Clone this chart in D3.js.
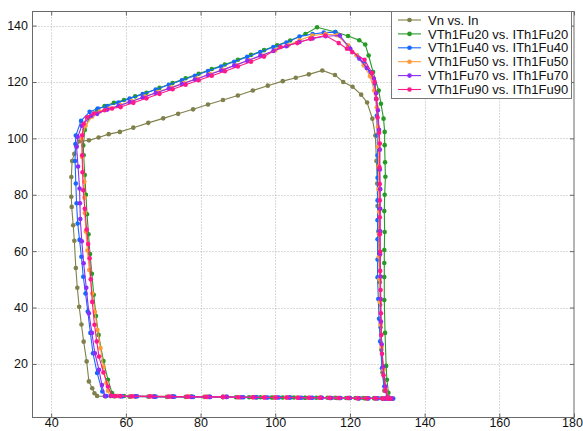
<!DOCTYPE html>
<html><head><meta charset="utf-8">
<script src="https://cdn.jsdelivr.net/npm/d3@7"></script>
<style>body{margin:0;background:#fff}svg{display:block}</style>
</head><body>
<svg id="c" width="583" height="431"></svg>
<script>
// ---- data ----
const seriesNames = ["Vn vs. In","VTh1Fu20 vs. ITh1Fu20","VTh1Fu40 vs. ITh1Fu40","VTh1Fu50 vs. ITh1Fu50","VTh1Fu70 vs. ITh1Fu70","VTh1Fu90 vs. ITh1Fu90"];
const seriesColors = ["#80804c","#259a25","#1668ff","#ff9a38","#8c2cf5","#ff1a8c"];
const xTicks = [40,60,80,100,120,140,160,180];
const yTicks = [20,40,60,80,100,120,140];

const vnX = [130.5,128.8,126.5,123.5,120.0,116.0,112.0,108.0,104.0,99.5,95.0,90.5,86.0,81.0,76.0,71.0,66.0,61.0,57.0,54.5,52.3,51.6,51.0,50.1,49.5,48.7,48.1,47.5,47.0,46.6,46.2,45.9,45.5,45.4,45.4,45.6,46.2,46.8,47.7,50.1,52.7,55.4,58.4,62.0,66.0,70.0,74.0,78.0,82.0,86.0,90.0,94.0,98.0,102.0,105.5,109.0,112.6,116.0,118.2,120.7,123.0,124.6,126.0,126.8,127.1,127.3,127.4,127.6,127.8,128.0,128.1,128.2,128.4,128.7,129.2];
const vnY = [7.8,7.8,7.9,7.9,7.9,8.0,8.0,8.0,8.1,8.1,8.1,8.2,8.2,8.3,8.3,8.3,8.4,8.4,8.5,8.5,8.6,9.6,11.4,13.8,20.9,27.9,34.0,40.3,47.0,54.0,63.7,69.2,75.7,79.3,86.3,92.0,94.5,97.2,99.0,99.3,100.3,101.5,102.3,103.8,105.5,107.1,108.7,110.3,112.0,113.6,115.2,117.0,118.7,120.3,121.5,122.7,124.1,122.5,120.0,118.3,115.5,112.7,107.0,101.0,92.0,84.0,76.0,67.0,58.0,49.0,41.0,33.0,25.0,17.0,10.5];

const fu20X = [131.0,130.0,128.5,126.5,124.0,121.5,119.0,116.5,114.0,111.0,108.0,105.0,102.0,99.0,96.0,93.0,89.5,86.0,82.0,77.5,72.5,67.5,62.5,59.5,57.7,56.3,55.2,54.0,52.7,52.0,51.4,50.9,50.4,50.0,49.6,49.3,49.0,48.7,48.6,49.0,50.2,52.3,54.3,56.8,59.5,62.5,65.5,69.0,72.5,76.0,79.5,83.0,86.5,90.0,93.5,97.0,100.5,104.0,108.1,111.2,116.1,119.5,122.5,124.1,125.0,126.2,127.7,128.3,129.0,129.3,129.3,129.4,129.5,129.3,129.2,129.3,129.2,129.2,129.2,129.2,129.4,129.7,129.9,130.3,130.6];
const fu20Y = [7.7,7.7,7.8,7.8,7.8,7.9,7.9,7.9,8.0,8.0,8.0,8.1,8.1,8.1,8.2,8.2,8.2,8.3,8.3,8.4,8.4,8.5,8.5,8.6,8.6,9.7,14.4,21.0,30.3,37.0,44.5,52.0,59.0,66.0,73.1,80.0,87.0,94.0,97.5,103.0,107.5,110.2,111.5,112.6,113.6,114.9,116.2,117.9,119.6,121.3,122.9,124.6,126.2,127.9,129.6,131.3,133.0,134.7,137.0,139.4,137.7,136.3,134.8,133.3,129.4,123.5,117.0,112.3,107.0,102.3,97.6,91.5,86.4,80.0,74.2,66.8,60.4,55.8,50.8,42.7,31.0,19.3,14.4,9.8,8.0];

const fu40X = [131.6,130.8,129.5,127.5,125.0,122.5,120.0,117.5,115.0,112.5,110.0,107.0,104.0,101.0,98.0,95.0,91.5,87.0,82.5,78.0,73.0,68.0,63.0,59.0,56.5,54.8,53.7,52.3,51.2,50.5,49.8,49.2,48.6,48.1,47.6,47.1,46.8,46.6,46.4,46.5,46.6,48.0,50.3,52.5,55.0,58.0,61.0,64.5,68.0,71.5,75.0,78.5,82.0,85.5,89.0,92.5,96.0,99.5,103.0,106.5,110.0,113.0,116.1,119.7,121.9,123.8,125.5,126.6,127.0,127.2,127.3,127.4,127.4,127.4,127.4,127.4,127.4,127.4,127.6,127.8,128.1,128.6,129.2,130.0];
const fu40Y = [7.7,7.7,7.7,7.8,7.8,7.8,7.9,7.9,7.9,8.0,8.0,8.0,8.1,8.1,8.1,8.2,8.2,8.3,8.3,8.3,8.4,8.4,8.5,8.5,8.6,8.6,10.2,16.8,23.8,31.0,38.6,45.0,50.9,58.0,64.0,69.8,77.0,84.0,92.0,98.0,101.0,106.2,109.4,110.6,111.5,112.7,114.1,115.7,117.3,119.0,120.6,122.2,123.9,125.5,127.2,128.9,130.6,132.4,134.0,136.1,137.0,137.5,137.7,132.4,129.4,126.5,123.5,119.4,114.0,108.0,101.0,94.0,86.0,78.0,71.0,64.2,57.0,50.7,43.0,36.0,28.0,18.5,12.0,8.2];

const fu50X = [131.2,130.3,129.0,127.0,124.5,122.0,119.5,117.0,114.5,112.0,109.0,106.0,103.0,100.0,97.0,94.0,90.5,86.5,82.0,77.0,72.0,67.0,62.0,58.0,55.8,55.2,54.8,54.0,53.2,52.4,51.7,51.0,50.2,49.7,49.3,49.0,48.9,48.9,48.3,48.2,49.2,51.0,53.0,55.5,58.5,61.5,65.0,68.5,72.0,75.5,79.0,82.5,86.0,89.5,93.0,96.5,100.0,103.5,106.5,109.9,113.5,116.5,119.5,121.8,123.7,125.4,126.5,127.2,127.5,127.6,127.7,127.7,127.8,127.8,127.8,127.9,128.0,128.2,128.5,129.0,129.6,130.3];
const fu50Y = [7.7,7.7,7.8,7.8,7.8,7.9,7.9,7.9,8.0,8.0,8.0,8.1,8.1,8.1,8.2,8.2,8.2,8.3,8.3,8.4,8.4,8.5,8.5,8.6,8.6,10.5,13.2,19.0,25.6,32.0,38.5,45.0,53.3,60.2,67.0,73.5,79.0,84.6,93.4,100.0,104.5,107.8,109.5,110.6,111.8,113.2,114.8,116.4,118.0,119.6,121.2,122.8,124.4,126.0,127.7,129.4,131.2,133.0,134.8,136.5,137.0,136.6,133.0,129.5,125.9,122.0,117.0,111.0,104.0,97.0,90.0,82.0,74.0,66.0,58.0,50.0,42.0,34.0,26.0,18.0,11.5,8.2];

const fu70X = [131.3,130.5,129.2,127.2,124.8,122.3,119.8,117.3,114.8,112.3,109.5,106.5,103.5,100.5,97.5,94.5,91.0,87.0,82.5,77.5,72.5,67.5,62.5,58.5,56.0,54.4,53.6,52.8,51.7,50.9,50.1,49.4,48.7,48.2,47.8,47.7,47.6,47.2,46.8,47.1,48.2,50.7,52.3,55.0,58.0,61.0,64.5,68.0,71.5,75.0,78.5,82.0,85.5,89.0,92.5,96.0,99.5,103.0,106.5,110.0,113.5,117.3,120.1,122.5,124.5,126.4,127.0,127.5,127.8,128.0,128.0,128.1,128.1,128.1,128.1,128.2,128.2,128.3,128.5,128.9,129.5,130.1];
const fu70Y = [7.7,7.7,7.7,7.8,7.8,7.8,7.9,7.9,7.9,8.0,8.0,8.0,8.1,8.1,8.1,8.2,8.2,8.3,8.3,8.3,8.4,8.4,8.5,8.5,8.6,8.6,12.5,17.9,23.8,31.0,38.0,47.0,55.7,63.5,71.4,77.0,82.2,90.0,97.0,100.5,104.5,108.0,108.7,110.2,111.5,112.9,114.5,116.1,117.7,119.3,120.9,122.5,124.1,125.8,127.5,129.3,131.0,132.7,134.2,135.4,136.2,136.5,131.8,128.3,125.0,121.2,116.0,110.0,103.0,96.0,89.0,82.0,75.0,67.0,59.0,51.0,43.0,35.0,27.0,19.0,12.0,8.2];

const fu90X = [130.8,130.0,128.7,126.8,124.5,122.0,119.5,117.0,114.5,112.0,109.0,106.0,103.0,100.0,97.0,94.0,90.0,86.0,81.5,76.5,71.5,66.5,61.5,58.5,57.3,56.3,55.2,54.0,52.8,52.2,51.6,51.0,50.6,50.3,49.9,49.5,49.0,48.6,48.4,48.3,48.3,48.7,49.6,51.4,54.3,56.3,58.6,62.0,65.5,69.0,72.5,76.0,79.5,83.0,86.5,90.0,93.5,97.0,101.4,105.9,109.4,113.4,117.0,119.2,120.6,123.9,125.9,126.6,127.1,127.4,127.8,128.0,127.9,128.0,128.0,128.0,128.0,128.1,128.1,128.2,128.3,128.4,128.6,129.0,129.5,130.0];
const fu90Y = [7.7,7.7,7.7,7.8,7.8,7.8,7.9,7.9,7.9,8.0,8.0,8.0,8.1,8.1,8.1,8.2,8.2,8.3,8.3,8.4,8.4,8.5,8.5,8.6,8.6,8.7,12.0,17.0,22.6,28.0,33.9,42.0,50.0,57.5,62.5,67.7,75.0,81.6,88.0,94.0,101.1,105.2,107.5,108.8,110.0,110.6,111.1,112.6,114.2,115.8,117.4,119.0,120.6,122.2,123.8,125.5,127.2,129.0,132.4,133.8,135.3,136.5,133.8,131.8,130.6,127.9,123.2,120.0,114.0,107.4,102.0,98.2,89.7,83.8,78.0,72.0,66.0,59.8,53.0,46.2,38.0,30.3,23.6,16.0,10.5,8.0];

const seriesX = [vnX, fu20X, fu40X, fu50X, fu70X, fu90X];
const seriesY = [vnY, fu20Y, fu40Y, fu50Y, fu70Y, fu90Y];

// ---- drawing ----
const L = 32.5, R = 574, T = 11.5, B = 417.5;
const x = d3.scaleLinear().domain([35, 180]).range([L, R]);
const y = d3.scaleLinear().domain([1, 145]).range([B, T]);
const svg = d3.select("#c");
const font = "'Liberation Sans', Arial, Helvetica, sans-serif";

svg.append("rect").attr("width", 583).attr("height", 431).attr("fill", "#fff");

// grid
const g = svg.append("g");
g.selectAll("line.gx").data(xTicks.filter(t => x(t) < R - 1)).enter().append("line")
  .attr("x1", d => Math.round(x(d)) + 0.5).attr("x2", d => Math.round(x(d)) + 0.5)
  .attr("y1", T).attr("y2", B)
  .attr("stroke", "#b4b4b4").attr("stroke-width", 1).attr("stroke-dasharray", "1,2");
g.selectAll("line.gy").data(yTicks).enter().append("line")
  .attr("x1", L).attr("x2", R)
  .attr("y1", d => Math.round(y(d)) + 0.5).attr("y2", d => Math.round(y(d)) + 0.5)
  .attr("stroke", "#b4b4b4").attr("stroke-width", 1).attr("stroke-dasharray", "1,2");

// series
const line = d3.line().x(d => x(d[0])).y(d => y(d[1]));
seriesX.forEach((xs, i) => {
  const pts = xs.map((v, j) => [v, seriesY[i][j]]);
  const sg = svg.append("g");
  sg.append("path").attr("d", line(pts)).attr("fill", "none")
    .attr("stroke", seriesColors[i]).attr("stroke-width", 1.1);
  sg.selectAll("circle").data(pts).enter().append("circle")
    .attr("cx", d => x(d[0])).attr("cy", d => y(d[1])).attr("r", 2.3)
    .attr("fill", seriesColors[i]);
});

// axes
const axB = svg.append("g").attr("transform", `translate(0,${B})`)
  .call(d3.axisBottom(x).tickValues(xTicks).tickSize(-4).tickPadding(1));
svg.append("g").attr("transform", `translate(${L},0)`)
  .call(d3.axisLeft(y).tickValues(yTicks).tickSize(-4).tickPadding(4.5));
svg.append("g").attr("transform", `translate(0,${T})`)
  .call(d3.axisTop(x).tickValues(xTicks).tickSize(-4).tickFormat(""));
svg.append("g").attr("transform", `translate(${R},0)`)
  .call(d3.axisRight(y).tickValues(yTicks).tickSize(-4).tickFormat(""));
svg.selectAll(".domain").remove();
svg.selectAll(".tick line").attr("stroke", "#666");
svg.selectAll(".tick text").attr("font-family", font).attr("font-size", 12.5).attr("fill", "#111");
// keep the last x label inside the window
axB.selectAll(".tick text").filter(d => d === 180).attr("dx", "-2");

svg.append("rect").attr("x", L).attr("y", T).attr("width", R - L).attr("height", B - T)
  .attr("fill", "none").attr("stroke", "#6a6a6a").attr("stroke-width", 1);

// legend
const lg = svg.append("g");
lg.append("rect").attr("x", 391.5).attr("y", 11.5).attr("width", 180).attr("height", 87)
  .attr("fill", "#fff").attr("stroke", "#777").attr("stroke-width", 1);
seriesNames.forEach((name, i) => {
  const ry = 20 + i * 13.9;
  lg.append("line").attr("x1", 398).attr("x2", 421).attr("y1", ry).attr("y2", ry)
    .attr("stroke", seriesColors[i]).attr("stroke-width", 1.1);
  lg.append("circle").attr("cx", 409.5).attr("cy", ry).attr("r", 2.3).attr("fill", seriesColors[i]);
  lg.append("text").attr("x", 428).attr("y", ry).attr("dy", "0.36em")
    .attr("font-family", font).attr("font-size", 13).attr("fill", "#111").text(name);
});
</script>
</body></html>
